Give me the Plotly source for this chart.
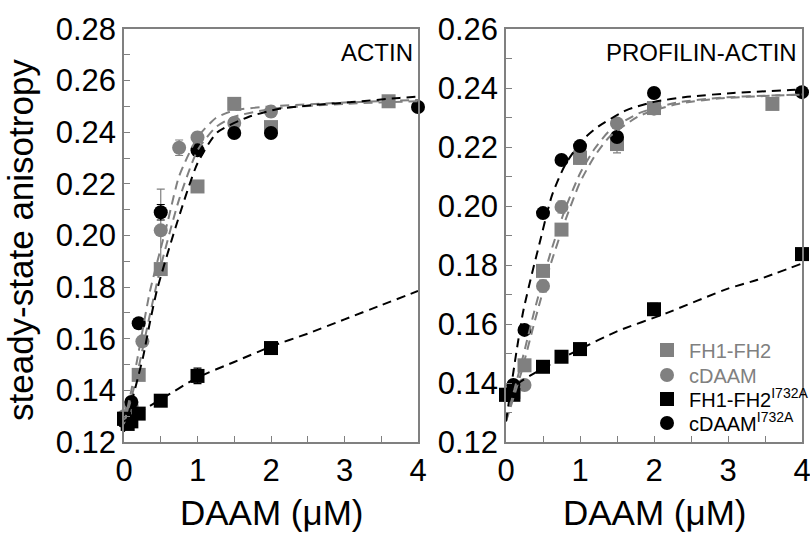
import plotly.graph_objects as go

GRAY = "#808080"
BLACK = "#000000"
FONT = "Liberation Sans, Arial, sans-serif"

# ---------------- ACTIN panel data ----------------
a_fh_x = [0, 0.1, 0.2, 0.5, 1.0, 1.5, 2.0, 3.6]
a_fh_y = [0.129, 0.133, 0.146, 0.187, 0.219, 0.251, 0.242, 0.252]
a_fh_e = [0.001, 0.001, 0.001, 0.002, 0.002, 0.002, 0.002, 0.001]

a_cd_x = [0, 0.1, 0.25, 0.5, 0.75, 1.0, 1.5, 2.0]
a_cd_y = [0.130, 0.134, 0.159, 0.202, 0.234, 0.238, 0.2436, 0.248]
a_cd_e = [0.001, 0.001, 0.001, 0.016, 0.003, 0.002, 0.002, 0.002]

a_fhm_x = [0, 0.05, 0.1, 0.2, 0.5, 1.0, 2.0]
a_fhm_y = [0.129, 0.127, 0.128, 0.131, 0.136, 0.1456, 0.1564]
a_fhm_e = [0.001, 0.001, 0.001, 0.001, 0.001, 0.003, 0.001]

a_cdm_x = [0, 0.1, 0.2, 0.5, 1.0, 1.5, 2.0, 4.0]
a_cdm_y = [0.128, 0.1355, 0.166, 0.209, 0.233, 0.2397, 0.2397, 0.2498]
a_cdm_e = [0.001, 0.001, 0.001, 0.003, 0.002, 0.001, 0.001, 0.001]

# fitted curves (ACTIN)
a_fit_g1_x = [0, 0.1, 0.2, 0.35, 0.5, 0.6, 0.75, 1.0, 1.25, 1.5, 2.0, 3.0, 4.0]
a_fit_g1_y = [0.127, 0.140, 0.155, 0.178, 0.195, 0.206, 0.223, 0.238, 0.2455, 0.2485, 0.250, 0.2515, 0.2525]
a_fit_g2_x = [0, 0.1, 0.2, 0.35, 0.5, 0.75, 1.0, 1.25, 1.5, 2.0, 3.0, 4.0]
a_fit_g2_y = [0.127, 0.137, 0.149, 0.169, 0.188, 0.214, 0.233, 0.242, 0.246, 0.249, 0.251, 0.252]
a_fit_b1_x = [0, 0.19, 0.26, 0.35, 0.45, 0.7, 1.0, 1.27, 1.7, 2.1, 2.6, 3.1, 3.75, 4.0]
a_fit_b1_y = [0.124, 0.145, 0.153, 0.166, 0.179, 0.203, 0.228, 0.240, 0.246, 0.249, 0.2506, 0.2517, 0.2533, 0.2538]
a_fit_b2_x = [0, 0.5, 1.0, 1.5, 2.0, 2.5, 3.0, 3.5, 4.0]
a_fit_b2_y = [0.128, 0.1365, 0.145, 0.151, 0.157, 0.162, 0.1675, 0.173, 0.1785]

# ---------------- PROFILIN-ACTIN panel data ----------------
p_fh_x = [0, 0.1, 0.25, 0.5, 0.75, 1.0, 1.5, 2.0, 3.6]
p_fh_y = [0.136, 0.137, 0.146, 0.178, 0.192, 0.2163, 0.221, 0.2332, 0.2346]
p_fh_e = [0.001, 0.001, 0.001, 0.001, 0.001, 0.002, 0.003, 0.001, 0.001]

p_cd_x = [0, 0.1, 0.25, 0.5, 0.75, 1.0, 1.5, 2.0]
p_cd_y = [0.136, 0.137, 0.1393, 0.1729, 0.1997, 0.218, 0.228, 0.233]
p_cd_e = [0.001, 0.001, 0.001, 0.002, 0.002, 0.001, 0.001, 0.001]

p_fhm_x = [0, 0.1, 0.5, 0.75, 1.0, 2.0, 4.0]
p_fhm_y = [0.136, 0.136, 0.1455, 0.1489, 0.1515, 0.165, 0.1837]
p_fhm_e = [0.001, 0.001, 0.001, 0.001, 0.001, 0.002, 0.001]

p_cdm_x = [0, 0.1, 0.25, 0.5, 0.75, 1.0, 1.5, 2.0, 4.0]
p_cdm_y = [0.136, 0.1393, 0.158, 0.1976, 0.2156, 0.2203, 0.2234, 0.2383, 0.2386]
p_cdm_e = [0.001, 0.001, 0.001, 0.001, 0.001, 0.001, 0.001, 0.001, 0.001]

p_fit_b1_x = [0, 0.15, 0.23, 0.35, 0.45, 0.62, 0.8, 1.04, 1.25, 1.63, 2.0, 2.45, 3.07, 3.84, 4.0]
p_fit_b1_y = [0.127, 0.152, 0.164, 0.177, 0.187, 0.2035, 0.214, 0.2225, 0.227, 0.2325, 0.2353, 0.237, 0.2383, 0.2393, 0.2395]
p_fit_g1_x = [0, 0.2, 0.4, 0.6, 0.8, 1.0, 1.2, 1.4, 1.8, 2.3, 2.9, 3.5, 4.0]
p_fit_g1_y = [0.127, 0.146, 0.166, 0.184, 0.199, 0.211, 0.2195, 0.2255, 0.2315, 0.235, 0.2367, 0.2374, 0.2378]
p_fit_g2_x = [0, 0.2, 0.4, 0.6, 0.8, 1.0, 1.2, 1.4, 1.8, 2.3, 2.9, 3.5, 4.0]
p_fit_g2_y = [0.127, 0.143, 0.162, 0.180, 0.195, 0.208, 0.217, 0.2235, 0.2305, 0.2345, 0.2365, 0.2373, 0.2377]
p_fit_b2_x = [0, 0.2, 0.5, 1.0, 1.5, 2.17, 3.0, 3.4, 4.0]
p_fit_b2_y = [0.136, 0.1405, 0.145, 0.1515, 0.1575, 0.1637, 0.172, 0.175, 0.1805]

y_ticks_left = [0.12, 0.14, 0.16, 0.18, 0.20, 0.22, 0.24, 0.26, 0.28]
y_ticks_right = [0.12, 0.14, 0.16, 0.18, 0.20, 0.22, 0.24, 0.26]
x_ticks = [0, 1, 2, 3, 4]

legend_names = [
    '<span style="color:#808080">FH1-FH2</span>',
    '<span style="color:#808080">cDAAM</span>',
    'FH1-FH2<sup>I732A</sup>',
    'cDAAM<sup>I732A</sup>',
]
legend_rows_px = [350, 375, 399, 423]

fig = go.Figure()


def add_fit(x, y, color, xa, ya):
    fig.add_trace(go.Scatter(
        x=x, y=y, mode="lines",
        line=dict(color=color, width=2, dash="9px,6px", shape="spline", smoothing=0.6),
        xaxis=xa, yaxis=ya, showlegend=False, hoverinfo="skip"))


def add_pts(x, y, e, color, symbol, xa, ya, name, legend=None):
    kw = dict(showlegend=False)
    if legend:
        kw = dict(showlegend=True, legend=legend)
    fig.add_trace(go.Scatter(
        x=x, y=y, mode="markers", name=name,
        marker=dict(color=color, symbol=symbol, size=14, line=dict(width=0)),
        error_y=dict(type="data", array=e, color=color, thickness=1.2, width=4),
        xaxis=xa, yaxis=ya, cliponaxis=False, **kw))


# left panel
add_pts(a_fh_x, a_fh_y, a_fh_e, GRAY, "square", "x", "y", legend_names[0])
add_pts(a_cd_x, a_cd_y, a_cd_e, GRAY, "circle", "x", "y", legend_names[1])
add_pts(a_fhm_x, a_fhm_y, a_fhm_e, BLACK, "square", "x", "y", legend_names[2])
add_pts(a_cdm_x, a_cdm_y, a_cdm_e, BLACK, "circle", "x", "y", legend_names[3])
add_fit(a_fit_g1_x, a_fit_g1_y, GRAY, "x", "y")
add_fit(a_fit_g2_x, a_fit_g2_y, GRAY, "x", "y")
add_fit(a_fit_b1_x, a_fit_b1_y, BLACK, "x", "y")
add_fit(a_fit_b2_x, a_fit_b2_y, BLACK, "x", "y")

# right panel
add_pts(p_fh_x, p_fh_y, p_fh_e, GRAY, "square", "x2", "y2", legend_names[0], "legend")
add_pts(p_cd_x, p_cd_y, p_cd_e, GRAY, "circle", "x2", "y2", legend_names[1], "legend2")
add_pts(p_fhm_x, p_fhm_y, p_fhm_e, BLACK, "square", "x2", "y2", legend_names[2], "legend3")
add_pts(p_cdm_x, p_cdm_y, p_cdm_e, BLACK, "circle", "x2", "y2", legend_names[3], "legend4")
add_fit(p_fit_g1_x, p_fit_g1_y, GRAY, "x2", "y2")
add_fit(p_fit_g2_x, p_fit_g2_y, GRAY, "x2", "y2")
add_fit(p_fit_b1_x, p_fit_b1_y, BLACK, "x2", "y2")
add_fit(p_fit_b2_x, p_fit_b2_y, BLACK, "x2", "y2")

W, H = 810, 536
yd = [94 / H, 507 / H]

axis_common = dict(
    showline=True, linecolor=GRAY, linewidth=1.5, mirror=True,
    ticks="inside", ticklen=6, tickwidth=1.2, tickcolor=GRAY,
    showgrid=False, zeroline=False, automargin=False, ticklabeloverflow="allow",
    tickfont=dict(family=FONT, size=31, color="black"),
)


def legend_box(row_px):
    return dict(x=645 / W, y=(H - row_px) / H, xanchor="left", yanchor="middle",
                bgcolor="rgba(0,0,0,0)", borderwidth=0, itemwidth=34,
                font=dict(family=FONT, size=20, color="black"), itemsizing="trace")


fig.update_layout(
    template="none",
    width=W, height=H,
    margin=dict(l=0, r=0, t=0, b=0, autoexpand=False),
    paper_bgcolor="white", plot_bgcolor="white",
    font=dict(family=FONT, color="black"),
    xaxis=dict(domain=[124 / W, 418 / W], range=[0, 4], tickvals=x_ticks, ticktext=[str(v) for v in x_ticks],
               minor=dict(ticks="inside", ticklen=6, dtick=0.5, tickcolor=GRAY, tickwidth=1.2),
               anchor="y", **axis_common),
    yaxis=dict(domain=yd, range=[0.12, 0.28], tickvals=y_ticks_left,
               ticktext=[f"{v:.2f}" for v in y_ticks_left],
               minor=dict(ticks="inside", ticklen=6, dtick=0.01, tickcolor=GRAY, tickwidth=1.2),
               anchor="x", **axis_common),
    xaxis2=dict(domain=[506 / W, 802 / W], range=[0, 4], tickvals=x_ticks, ticktext=[str(v) for v in x_ticks],
                minor=dict(ticks="inside", ticklen=6, dtick=0.5, tickcolor=GRAY, tickwidth=1.2),
                anchor="y2", **axis_common),
    yaxis2=dict(domain=yd, range=[0.12, 0.26], tickvals=y_ticks_right,
                ticktext=[f"{v:.2f}" for v in y_ticks_right],
                minor=dict(ticks="inside", ticklen=6, dtick=0.01, tickcolor=GRAY, tickwidth=1.2),
                anchor="x2", **axis_common),
    legend=legend_box(legend_rows_px[0]),
    legend2=legend_box(legend_rows_px[1]),
    legend3=legend_box(legend_rows_px[2]),
    legend4=legend_box(legend_rows_px[3]),
    showlegend=True,
    annotations=[
        dict(text="ACTIN", x=4, y=0.28, xref="x", yref="y", xanchor="right", yanchor="top",
             xshift=-3, yshift=-8, showarrow=False, font=dict(family=FONT, size=24, color="black")),
        dict(text="PROFILIN-ACTIN", x=4, y=0.26, xref="x2", yref="y2", xanchor="right", yanchor="top",
             xshift=-3, yshift=-8, showarrow=False, font=dict(family=FONT, size=24, color="black")),
        dict(text="DAAM (\u03bcM)", x=271 / W, y=(H - 512) / H, xref="paper", yref="paper",
             xanchor="center", yanchor="middle", showarrow=False,
             font=dict(family=FONT, size=35, color="black")),
        dict(text="DAAM (\u03bcM)", x=654 / W, y=(H - 512) / H, xref="paper", yref="paper",
             xanchor="center", yanchor="middle", showarrow=False,
             font=dict(family=FONT, size=35, color="black")),
        dict(text="steady-state anisotropy", x=21 / W, y=(H - 240) / H, xref="paper", yref="paper",
             xanchor="center", yanchor="middle", textangle=-90, showarrow=False,
             font=dict(family=FONT, size=35, color="black")),
    ],
)

fig.write_html(
    "out.html",
    config={"displayModeBar": False},
    post_script="document.body.style.margin='0px';document.body.style.padding='0px';",
)
